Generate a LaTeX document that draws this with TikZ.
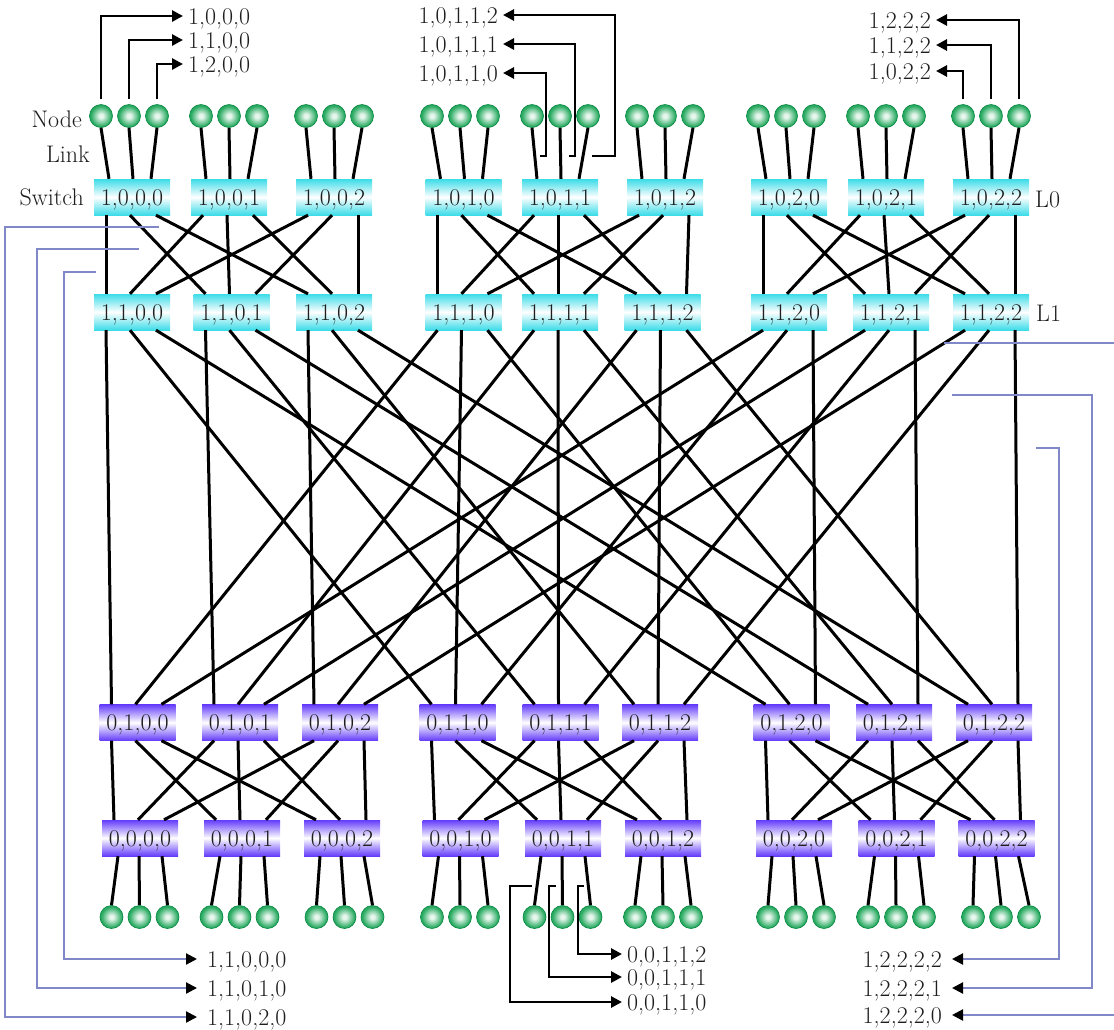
\documentclass[tikz,border=0pt]{standalone}
\usepackage{fontspec}
\usetikzlibrary{arrows.meta}
\definecolor{swcyan}{RGB}{60,220,232}
\definecolor{swpurp}{RGB}{100,60,250}
\definecolor{bluelink}{RGB}{128,136,200}
\definecolor{ballw}{RGB}{232,247,238}
\definecolor{ballm}{RGB}{45,172,100}
\definecolor{balle}{RGB}{5,135,65}
\definecolor{txt}{RGB}{30,30,30}
\pgfdeclareradialshading{gball}{\pgfpoint{0bp}{0bp}}{color(0bp)=(ballw); color(4bp)=(ballw); color(22bp)=(ballm); color(42bp)=(balle); color(50bp)=(balle)}
\begin{document}
\begin{tikzpicture}[x=1pt,y=-1pt,
  txtfont/.style={font=\fontsize{24}{27}\selectfont, text=txt},
  lbl/.style={txtfont, inner xsep=5pt, inner ysep=0pt, text height=16pt, text depth=0pt},
  lblw/.style={lbl, inner xsep=10pt},
  swbox/.style={rectangle, minimum width=76pt, minimum height=36pt, inner sep=0pt, txtfont, text height=16pt, text depth=0pt},
  cyansw/.style={swbox, top color=swcyan, bottom color=swcyan, middle color=white},
  purpsw/.style={swbox, top color=swpurp, bottom color=swpurp, middle color=white},
  gnode/.style={circle, minimum size=23pt, inner sep=0pt, shade, shading=gball, draw=balle, line width=0.6pt},
  wire/.style={line width=3pt, black},
  blk/.style={line width=2.8pt, black, -{Triangle[length=11pt,width=11pt]}},
  blu/.style={line width=2.2pt, bluelink, -{Triangle[length=11pt,width=11pt,black]}},
]
\path[use as bounding box] (0,0) rectangle (1114,1029);
\clip (0,0) rectangle (1114,1029);

% ---------- switches ----------
\foreach \x [count=\i from 0] in {132,229,334,463.5,560,665,789,886,991}{
  \pgfmathtruncatemacro\ga{floor(\i/3)}\pgfmathtruncatemacro\gb{\i-3*\ga}
  \node[cyansw] (LA-\ga-\gb) at (\x,197) {1,0,\ga,\gb};
}
\foreach \x [count=\i from 0] in {132,231.5,334,463.5,560,662.5,789,891,991}{
  \pgfmathtruncatemacro\ga{floor(\i/3)}\pgfmathtruncatemacro\gb{\i-3*\ga}
  \node[cyansw] (LB-\ga-\gb) at (\x,312) {1,1,\ga,\gb};
}
\foreach \x [count=\i from 0] in {137.5,240,340,457.5,560.5,660,791.5,894,994}{
  \pgfmathtruncatemacro\ga{floor(\i/3)}\pgfmathtruncatemacro\gb{\i-3*\ga}
  \node[purpsw] (PA-\ga-\gb) at (\x,722.5) {0,1,\ga,\gb};
}
\foreach \x [count=\i from 0] in {140,242,342,460.5,563,663,794,896.5,996.5}{
  \pgfmathtruncatemacro\ga{floor(\i/3)}\pgfmathtruncatemacro\gb{\i-3*\ga}
  \node[purpsw] (PB-\ga-\gb) at (\x,838) {0,0,\ga,\gb};
}

% ---------- end nodes ----------
\foreach \c [count=\i from 0] in {129,229,334,460,560,665,786,886,991}{
  \pgfmathtruncatemacro\ga{floor(\i/3)}\pgfmathtruncatemacro\gb{\i-3*\ga}
  \foreach \k/\o in {0/-23,1/1,2/19}{
    \node[gnode] (T-\ga-\gb-\k) at ({\c+(\k-1)*28},116) {};
    \draw[wire] (T-\ga-\gb-\k.south) -- ([xshift=\o pt]LA-\ga-\gb.north);
  }
}
\foreach \c [count=\i from 0] in {139.5,239.5,344.5,460,562.5,663,796,896,1001}{
  \pgfmathtruncatemacro\ga{floor(\i/3)}\pgfmathtruncatemacro\gb{\i-3*\ga}
  \foreach \k/\o in {0/-22,1/-1,2/22}{
    \node[gnode] (B-\ga-\gb-\k) at ({\c+(\k-1)*28},917) {};
    \draw[wire] ([xshift=\o pt]PB-\ga-\gb.south) -- (B-\ga-\gb-\k.north);
  }
}

% ---------- links inside groups ----------
\foreach \g in {0,1,2}{
  \foreach \i/\oi in {0/-26,1/-2,2/24}{
    \foreach \j/\oj in {0/-26,1/-2,2/24}{
      \draw[wire] ([xshift=\oj pt]LA-\g-\i.south) -- ([xshift=\oi pt]LB-\g-\j.north);
      \draw[wire] ([xshift=\oj pt]PA-\g-\i.south) -- ([xshift=\oi pt]PB-\g-\j.north);
    }
  }
}
% ---------- links between the two trees ----------
\foreach \a/\oa in {0/-26,1/-2,2/24}{
  \foreach \b in {0,1,2}{
    \foreach \c/\oc in {0/-26,1/-2,2/24}{
      \draw[wire] ([xshift=\oc pt]LB-\a-\b.south) -- ([xshift=\oa pt]PA-\c-\b.north);
    }
  }
}

% ---------- side labels ----------
\node[lbl, inner xsep=0pt, anchor=east] (lnode) at (82,119) {Node};
\node[lbl, inner xsep=0pt, anchor=east] (llink) at (90,154) {Link};
\node[lbl, inner xsep=0pt, anchor=east] (lswitch) at (84,197) {Switch};
\node[lbl, inner xsep=0pt, anchor=west] (l0) at (1035,199) {L0};
\node[lbl, inner xsep=0pt, anchor=west] (l1) at (1036,313) {L1};

% ---------- top left arrows ----------
\node[lbl, anchor=west] (t1000) at (183,16) {1,0,0,0};
\node[lbl, anchor=west] (t1100) at (183,40) {1,1,0,0};
\node[lbl, anchor=west] (t1200) at (183,64) {1,2,0,0};
\draw[blk, shorten <=5pt] (T-0-0-0.north) |- (t1000.west);
\draw[blk, shorten <=5pt] (T-0-0-1.north) |- (t1100.west);
\draw[blk, shorten <=5pt] (T-0-0-2.north) |- (t1200.west);

% ---------- top middle arrows ----------
\node[lbl, anchor=east] (t10112) at (503,15) {1,0,1,1,2};
\node[lbl, anchor=east] (t10111) at (503,44) {1,0,1,1,1};
\node[lbl, anchor=east] (t10110) at (503,73) {1,0,1,1,0};
\coordinate (s2) at (592,156);
\coordinate (s1) at (569,156);
\coordinate (s0) at (540,156);
\draw[blk] (s2) -- (615,156) |- (t10112.east);
\draw[blk] (s1) -- (575,156) |- (t10111.east);
\draw[blk] (s0) -- (546,156) |- (t10110.east);

% ---------- top right arrows ----------
\node[lbl, anchor=east] (t1222) at (936,20) {1,2,2,2};
\node[lbl, anchor=east] (t1122) at (936,45) {1,1,2,2};
\node[lbl, anchor=east] (t1022) at (936,71) {1,0,2,2};
\draw[blk, shorten <=5pt] (T-2-2-2.north) |- (t1222.east);
\draw[blk, shorten <=5pt] (T-2-2-1.north) |- (t1122.east);
\draw[blk, shorten <=5pt] (T-2-2-0.north) |- (t1022.east);

% ---------- bottom middle arrows ----------
\node[lbl, anchor=west] (b00112) at (622,954) {0,0,1,1,2};
\node[lbl, anchor=west] (b00111) at (622,977) {0,0,1,1,1};
\node[lbl, anchor=west] (b00110) at (622,1002) {0,0,1,1,0};
\coordinate (u2) at (584,886);
\coordinate (u1) at (556,886);
\coordinate (u0) at (532,886);
\draw[blk] (u2) -- (578,886) |- (b00112.west);
\draw[blk] (u1) -- (549,886) |- (b00111.west);
\draw[blk] (u0) -- (510,886) |- (b00110.west);

% ---------- blue links, left ----------
\node[lblw, anchor=west] (b11000) at (197,959) {1,1,0,0,0};
\node[lblw, anchor=west] (b11010) at (197,988) {1,1,0,1,0};
\node[lblw, anchor=west] (b11020) at (197,1017) {1,1,0,2,0};
\coordinate (v0) at (96,272);
\coordinate (v1) at (139,249);
\coordinate (v2) at (159,227);
\draw[blu] (v0) -- (64,272) |- (b11000.west);
\draw[blu] (v1) -- (37,249) |- (b11010.west);
\draw[blu] (v2) -- (5,227) |- (b11020.west);

% ---------- blue links, right ----------
\node[lblw, anchor=east] (b12222) at (952,959) {1,2,2,2,2};
\node[lblw, anchor=east] (b12221) at (952,988) {1,2,2,2,1};
\node[lblw, anchor=east] (b12220) at (952,1015) {1,2,2,2,0};
\coordinate (w2) at (1036,448);
\coordinate (w1) at (952,395);
\coordinate (w0) at (944,343);
\draw[blu] (w2) -- (1059,448) |- (b12222.east);
\draw[blu] (w1) -- (1092,395) |- (b12221.east);
\draw[blu] (w0) -- (1117,343) |- (b12220.east);
\end{tikzpicture}
\end{document}
